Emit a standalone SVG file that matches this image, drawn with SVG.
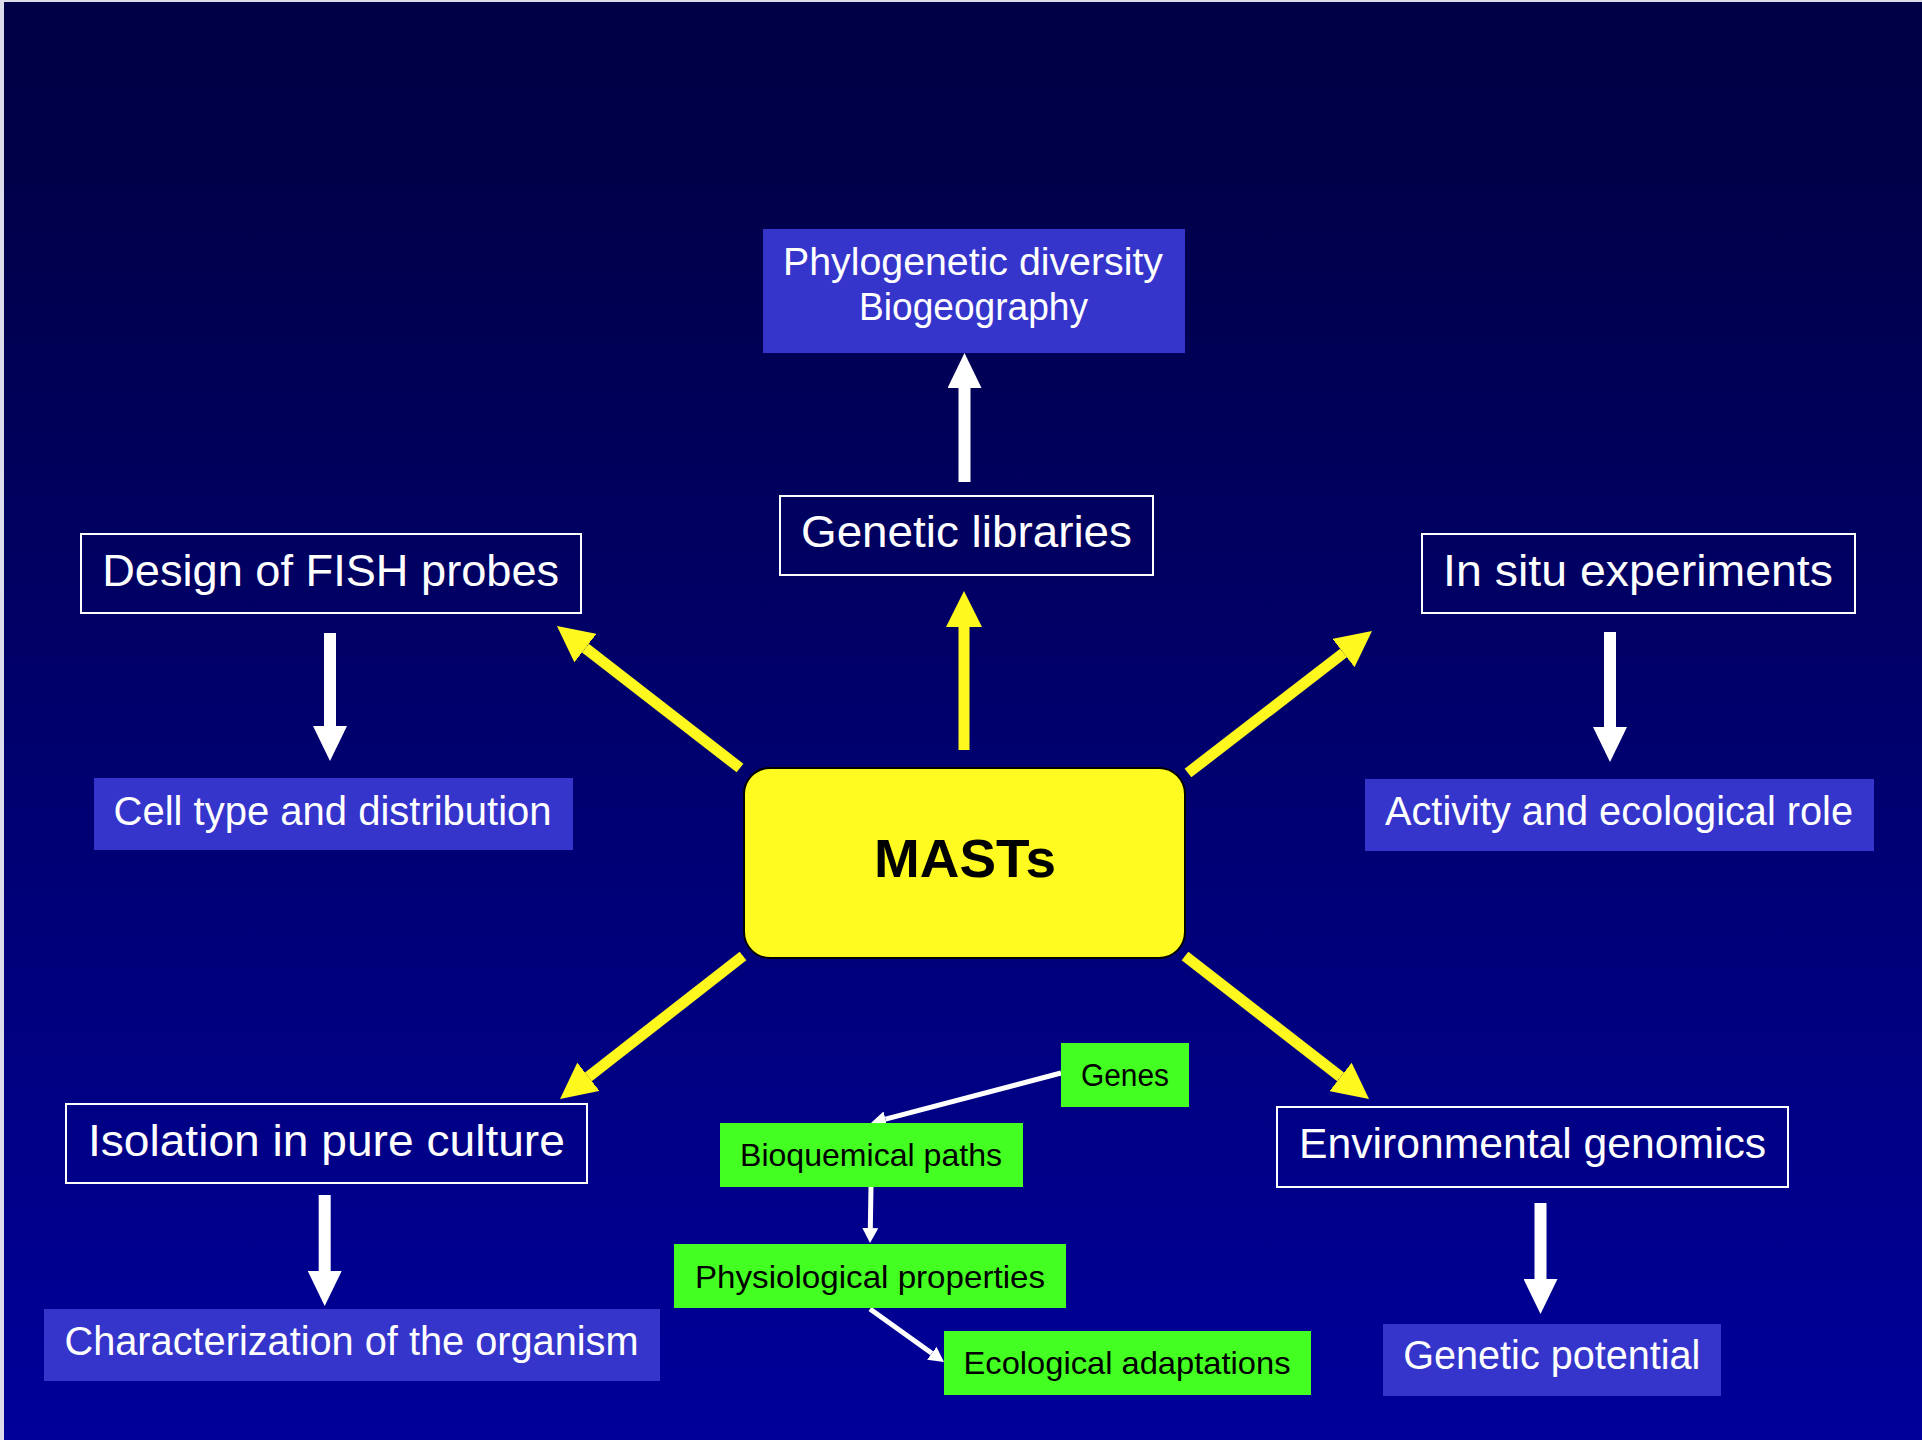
<svg xmlns="http://www.w3.org/2000/svg" width="1922" height="1440" viewBox="0 0 1922 1440">
  <style>
    .lbl { font-family: "Liberation Sans", Arial, sans-serif; fill: #ffffff; text-anchor: middle; }
    .dark { font-family: "Liberation Sans", Arial, sans-serif; fill: #000000; text-anchor: middle; }
    .outline { fill: none; stroke: #ffffff; stroke-width: 2; }
    .result { fill: #3535cc; }
    .trait { fill: #44ff22; }
    .ray { stroke: #fff81e; stroke-width: 11; fill: none; }
    .step { stroke: #ffffff; stroke-width: 12; fill: none; }
    .thin { stroke: #ffffff; stroke-width: 5; fill: none; }
  </style>
  <defs>
    <linearGradient id="bg" x1="0" y1="0" x2="0" y2="1">
      <stop offset="0" stop-color="#000046"/>
      <stop offset="0.12" stop-color="#000049"/>
      <stop offset="1" stop-color="#00009a"/>
    </linearGradient>
    <marker id="headY" markerUnits="userSpaceOnUse" markerWidth="36" markerHeight="36" refX="0" refY="18" orient="auto">
      <path d="M0,0 L36,18 L0,36 Z" fill="#fff81e"/>
    </marker>
    <marker id="headW" markerUnits="userSpaceOnUse" markerWidth="35" markerHeight="34" refX="0" refY="17" orient="auto">
      <path d="M0,0 L35,17 L0,34 Z" fill="#ffffff"/>
    </marker>
    <marker id="headS" markerUnits="userSpaceOnUse" markerWidth="15" markerHeight="16" refX="0" refY="8" orient="auto">
      <path d="M0,0 L15,8 L0,16 Z" fill="#ffffff"/>
    </marker>
  </defs>

  <!-- background -->
  <rect x="0" y="0" width="1922" height="1440" fill="url(#bg)"/>
  <rect x="0" y="0" width="4" height="1440" fill="#dcdcea"/>
  <rect x="0" y="0" width="1922" height="2" fill="#dcdcea"/>

  <!-- connectors -->
  <g id="connectors">
    <!-- from MASTs outwards -->
    <line class="ray" x1="964" y1="750" x2="964" y2="627" marker-end="url(#headY)"/>
    <line class="ray" x1="740" y1="768" x2="585.4" y2="648.1" marker-end="url(#headY)"/>
    <line class="ray" x1="1188" y1="773" x2="1343.5" y2="653" marker-end="url(#headY)"/>
    <line class="ray" x1="743" y1="956" x2="588.4" y2="1076.8" marker-end="url(#headY)"/>
    <line class="ray" x1="1185" y1="956" x2="1340.6" y2="1076.9" marker-end="url(#headY)"/>
    <!-- method to result -->
    <line class="step" x1="964.5" y1="482" x2="964.5" y2="388" marker-end="url(#headW)"/>
    <line class="step" x1="330" y1="633" x2="330" y2="726" marker-end="url(#headW)"/>
    <line class="step" x1="1610" y1="632" x2="1610" y2="727" marker-end="url(#headW)"/>
    <line class="step" x1="324.7" y1="1195" x2="324.7" y2="1271" marker-end="url(#headW)"/>
    <line class="step" x1="1540.5" y1="1203" x2="1540.5" y2="1279" marker-end="url(#headW)"/>
    <!-- genes chain -->
    <line class="thin" x1="1061" y1="1073" x2="885.5" y2="1119.2" marker-end="url(#headS)"/>
    <line class="thin" x1="871" y1="1187" x2="870.3" y2="1228" marker-end="url(#headS)"/>
    <line class="thin" x1="870" y1="1309" x2="931.8" y2="1353.3" marker-end="url(#headS)"/>
  </g>

  <!-- nodes -->
  <g id="phylogeny">
    <rect class="result" x="763" y="229" width="422" height="124"/>
    <text class="lbl" x="973" y="275" font-size="39" textLength="380" lengthAdjust="spacingAndGlyphs">Phylogenetic diversity</text>
    <text class="lbl" x="973.5" y="320" font-size="38" textLength="229" lengthAdjust="spacingAndGlyphs">Biogeography</text>
  </g>

  <g id="genetic-libraries">
    <rect class="outline" x="780" y="496" width="373" height="79"/>
    <text class="lbl" x="966.5" y="547" font-size="45" textLength="331" lengthAdjust="spacingAndGlyphs">Genetic libraries</text>
  </g>

  <g id="fish-probes">
    <rect class="outline" x="81" y="534" width="500" height="79"/>
    <text class="lbl" x="330.7" y="586" font-size="45" textLength="457" lengthAdjust="spacingAndGlyphs">Design of FISH probes</text>
  </g>

  <g id="cell-type">
    <rect class="result" x="94" y="778" width="479" height="72"/>
    <text class="lbl" x="332.6" y="825" font-size="40" textLength="438" lengthAdjust="spacingAndGlyphs">Cell type and distribution</text>
  </g>

  <g id="in-situ">
    <rect class="outline" x="1422" y="534" width="433" height="79"/>
    <text class="lbl" x="1638" y="586" font-size="45" textLength="390" lengthAdjust="spacingAndGlyphs">In situ experiments</text>
  </g>

  <g id="activity">
    <rect class="result" x="1365" y="779" width="509" height="72"/>
    <text class="lbl" x="1619" y="825" font-size="40" textLength="468" lengthAdjust="spacingAndGlyphs">Activity and ecological role</text>
  </g>

  <g id="masts">
    <rect x="744" y="768" width="441" height="190" rx="26" ry="26" fill="#fffa20" stroke="#000000" stroke-width="2"/>
    <text class="dark" x="965" y="877" font-size="54" font-weight="bold" textLength="182" lengthAdjust="spacingAndGlyphs">MASTs</text>
  </g>

  <g id="isolation">
    <rect class="outline" x="66" y="1104" width="521" height="79"/>
    <text class="lbl" x="326.4" y="1156" font-size="45" textLength="477" lengthAdjust="spacingAndGlyphs">Isolation in pure culture</text>
  </g>

  <g id="characterization">
    <rect class="result" x="44" y="1309" width="616" height="72"/>
    <text class="lbl" x="351.5" y="1355" font-size="40" textLength="574" lengthAdjust="spacingAndGlyphs">Characterization of the organism</text>
  </g>

  <g id="environmental-genomics">
    <rect class="outline" x="1277" y="1107" width="511" height="80"/>
    <text class="lbl" x="1532.6" y="1158" font-size="43" textLength="467" lengthAdjust="spacingAndGlyphs">Environmental genomics</text>
  </g>

  <g id="genetic-potential">
    <rect class="result" x="1383" y="1324" width="338" height="72"/>
    <text class="lbl" x="1551.8" y="1369" font-size="40" textLength="297" lengthAdjust="spacingAndGlyphs">Genetic potential</text>
  </g>

  <g id="genes">
    <rect class="trait" x="1061" y="1043" width="128" height="64"/>
    <text class="dark" x="1125" y="1086" font-size="31" textLength="88" lengthAdjust="spacingAndGlyphs">Genes</text>
  </g>

  <g id="bioquemical-paths">
    <rect class="trait" x="720" y="1123" width="303" height="64"/>
    <text class="dark" x="871" y="1166" font-size="32" textLength="262" lengthAdjust="spacingAndGlyphs">Bioquemical paths</text>
  </g>

  <g id="physiological-properties">
    <rect class="trait" x="674" y="1244" width="392" height="64"/>
    <text class="dark" x="870" y="1288" font-size="32" textLength="350" lengthAdjust="spacingAndGlyphs">Physiological properties</text>
  </g>

  <g id="ecological-adaptations">
    <rect class="trait" x="944" y="1331" width="367" height="64"/>
    <text class="dark" x="1127" y="1374" font-size="32" textLength="327" lengthAdjust="spacingAndGlyphs">Ecological adaptations</text>
  </g>
</svg>
